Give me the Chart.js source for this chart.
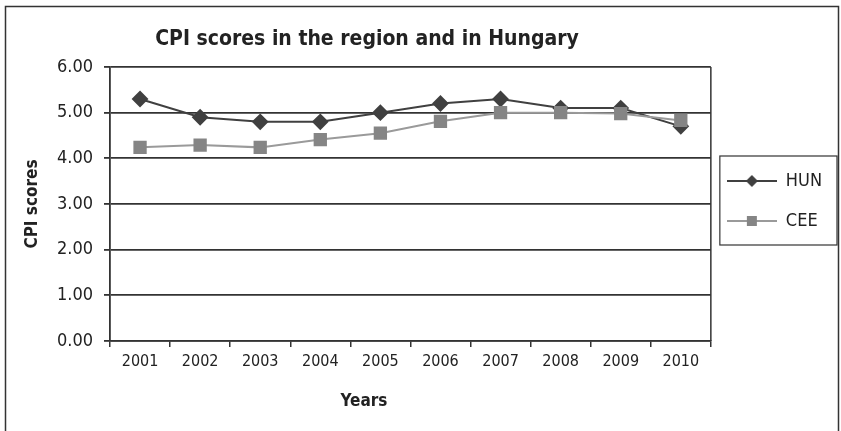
<!DOCTYPE html>
<html>
<head>
<meta charset="utf-8">
<script src="https://cdn.jsdelivr.net/npm/chart.js@4/dist/chart.umd.min.js"></script>
<style>
  body { margin: 0; background: #fff; }
  #wrap { width: 841px; height: 431px; }
</style>
</head>
<body>
<div id="wrap"><canvas id="cpiChart" width="841" height="431"></canvas></div>
<script>
const years = ['2001', '2002', '2003', '2004', '2005', '2006', '2007', '2008', '2009', '2010']
const hunScores = [5.3, 4.9, 4.8, 4.8, 5.0, 5.2, 5.3, 5.1, 5.1, 4.7]
const ceeScores = [4.24, 4.29, 4.24, 4.41, 4.55, 4.81, 5.0, 5.0, 4.98, 4.83]
const yTicks = [0, 1, 2, 3, 4, 5, 6]

const FONT = '"DejaVu Sans Condensed", "DejaVu Sans", sans-serif'
const INK = '#222'
const GRID = '#333'
const HUN_COLOR = '#404040'
const CEE_LINE = '#9a9a9a'
const CEE_FILL = '#858585'

// little line + marker sample used as legend point style
const legendSample = (lineColor, fill, shape) => {
    const c = document.createElement('canvas')
    c.width = 50
    c.height = 16
    const g = c.getContext('2d')
    g.strokeStyle = lineColor
    g.lineWidth = 2
    g.beginPath()
    g.moveTo(0, 8)
    g.lineTo(50, 8)
    g.stroke()
    g.fillStyle = fill
    if (shape === 'diamond') {
        g.beginPath()
        g.moveTo(25, 2); g.lineTo(31, 8); g.lineTo(25, 14); g.lineTo(19, 8)
        g.closePath()
        g.fill()
    } else {
        g.fillRect(20, 3, 10, 10)
    }
    return c
}
const samples = [legendSample(HUN_COLOR, HUN_COLOR, 'diamond'), legendSample(CEE_LINE, CEE_FILL, 'square')]

const frames = {
    id: 'frames',
    afterDraw(chart) {
        const ctx = chart.ctx
        const a = chart.chartArea
        ctx.save()
        ctx.strokeStyle = GRID
        ctx.lineWidth = 1.5
        // outer border
        ctx.beginPath()
        ctx.moveTo(5.5, 440); ctx.lineTo(5.5, 6.5); ctx.lineTo(838.5, 6.5); ctx.lineTo(838.5, 440)
        ctx.stroke()
        // plot area right edge
        ctx.beginPath()
        ctx.moveTo(a.right, a.top); ctx.lineTo(a.right, a.bottom)
        ctx.stroke()
        // legend box
        const lg = chart.legend
        const hb = lg.legendHitBoxes
        if (hb && hb.length) {
            const l = hb[0].left - 7
            const t = hb[0].top - 16
            const r = lg.right + 5
            const b = hb[hb.length - 1].top + 17 + 16
            ctx.lineWidth = 1.2
            ctx.strokeRect(l, t, r - l, b - t)
        }
        // titles
        ctx.fillStyle = INK
        ctx.textAlign = 'center'
        ctx.textBaseline = 'middle'
        ctx.font = 'bold 21px ' + FONT
        ctx.fillText('CPI scores in the region and in Hungary', 367, 40)
        ctx.font = 'bold 17px ' + FONT
        ctx.fillText('Years', 364, 402)
        ctx.restore()
    }
}

new Chart(document.getElementById('cpiChart').getContext('2d'), {
    type: 'line',
    data: {
        labels: years,
        datasets: [
            {
                label: 'HUN',
                data: hunScores,
                borderColor: HUN_COLOR,
                backgroundColor: HUN_COLOR,
                pointBackgroundColor: HUN_COLOR,
                pointBorderColor: HUN_COLOR,
                pointStyle: 'rectRot',
                pointRadius: 7,
                borderWidth: 2,
                tension: 0,
                order: 2
            },
            {
                label: 'CEE',
                data: ceeScores,
                borderColor: CEE_LINE,
                backgroundColor: CEE_FILL,
                pointBackgroundColor: CEE_FILL,
                pointBorderColor: CEE_FILL,
                pointStyle: 'rect',
                pointRadius: 8,
                borderWidth: 2,
                tension: 0,
                order: 1
            }
        ]
    },
    options: {
        responsive: false,
        animation: false,
        layout: { padding: { top: 67, right: 9, bottom: 0, left: 0 } },
        plugins: {
            title: { display: false },
            tooltip: { enabled: false },
            legend: {
                position: 'right',
                fullSize: false,
                labels: {
                    usePointStyle: true,
                    pointStyleWidth: 50,
                    padding: 16,
                    color: INK,
                    font: { family: FONT, size: 18, lineHeight: '24px' },
                    generateLabels: chart => chart.data.datasets.map((ds, i) => ({
                        text: [ds.label],
                        pointStyle: samples[i],
                        fillStyle: ds.backgroundColor,
                        strokeStyle: ds.borderColor,
                        lineWidth: 0,
                        fontColor: INK,
                        hidden: false,
                        datasetIndex: i
                    }))
                }
            }
        },
        scales: {
            x: {
                type: 'category',
                offset: true,
                afterFit: scale => { scale.height = 90 },
                grid: {
                    offset: true,
                    drawOnChartArea: false,
                    drawTicks: true,
                    tickLength: 6,
                    color: GRID,
                    lineWidth: 1.5
                },
                border: { display: true, color: GRID, width: 1.5 },
                ticks: {
                    color: INK,
                    padding: 5,
                    maxRotation: 0,
                    autoSkip: false,
                    font: { family: FONT, size: 16 }
                }
            },
            y: {
                min: 0,
                max: 6,
                afterFit: scale => { scale.width = 110 },
                afterBuildTicks: scale => { scale.ticks = yTicks.map(v => ({ value: v })) },
                grid: {
                    color: GRID,
                    lineWidth: 1.8,
                    drawTicks: true,
                    tickLength: 6
                },
                border: { display: true, color: GRID, width: 1.8 },
                ticks: {
                    color: INK,
                    padding: 11,
                    font: { family: FONT, size: 18 },
                    callback: v => Number(v).toFixed(2)
                },
                title: {
                    display: true,
                    text: 'CPI scores',
                    color: INK,
                    padding: { top: 22, bottom: 0 },
                    font: { family: FONT, size: 17, weight: 'bold' }
                }
            }
        }
    },
    plugins: [frames]
})
</script>
</body>
</html>
